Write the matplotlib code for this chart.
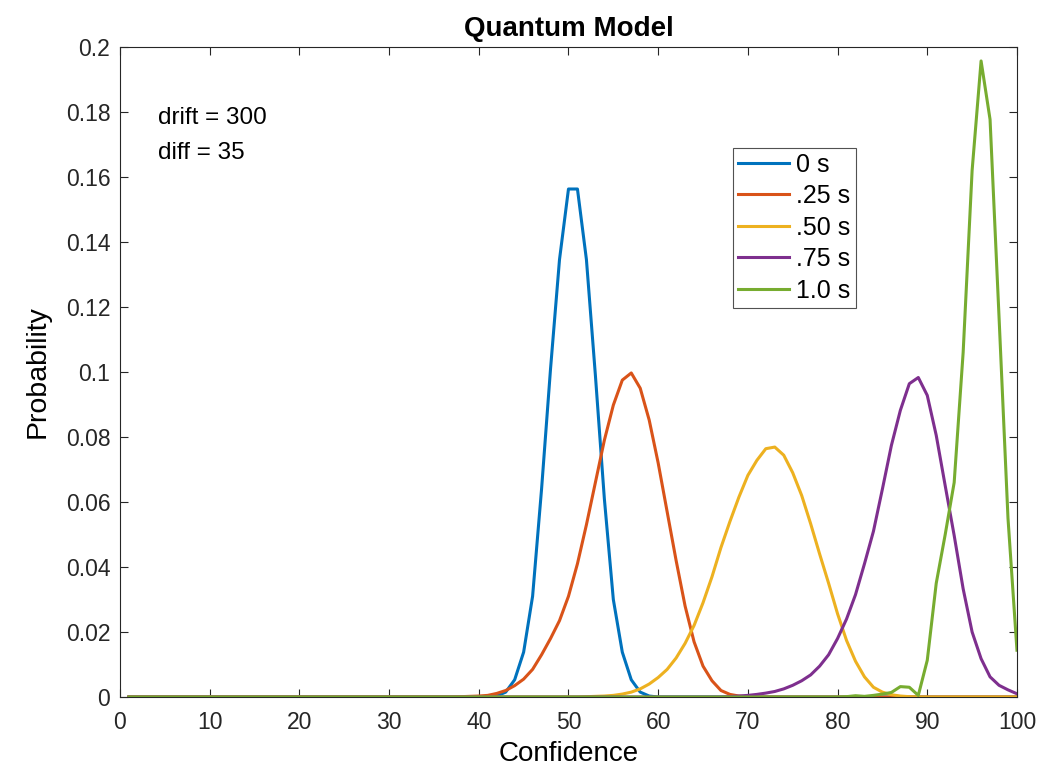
import matplotlib.pyplot as plt
import numpy as np

plt.rcParams['font.family'] = ['Liberation Sans', 'DejaVu Sans']

x = np.arange(1, 101)

# probability values (zero everywhere not listed)
blue_pts = {42: 0.0003, 43: 0.0015, 44: 0.0053, 45: 0.0138, 46: 0.031, 47: 0.064,
            48: 0.101, 49: 0.1346, 50: 0.1563, 51: 0.1563, 52: 0.1346, 53: 0.099,
            54: 0.061, 55: 0.030, 56: 0.0138, 57: 0.0053, 58: 0.0015, 59: 0.0003}
orange_pts = {38: 0.0001, 39: 0.0002, 40: 0.0003, 41: 0.0005, 42: 0.0011, 43: 0.002,
              44: 0.0035, 45: 0.0055, 46: 0.0085, 47: 0.013, 48: 0.018, 49: 0.0235,
              50: 0.031, 51: 0.041, 52: 0.053, 53: 0.066, 54: 0.079, 55: 0.0898,
              56: 0.0975, 57: 0.0997, 58: 0.095, 59: 0.0852, 60: 0.072, 61: 0.057,
              62: 0.042, 63: 0.028, 64: 0.017, 65: 0.0095, 66: 0.005, 67: 0.002,
              68: 0.0008, 69: 0.0003, 70: 0.0001}
yellow_pts = {52: 0.0001, 53: 0.0002, 54: 0.0003, 55: 0.0005, 56: 0.0009, 57: 0.0015,
              58: 0.0025, 59: 0.004, 60: 0.006, 61: 0.0085, 62: 0.012, 63: 0.0165,
              64: 0.022, 65: 0.029, 66: 0.037, 67: 0.046, 68: 0.054, 69: 0.0615,
              70: 0.0682, 71: 0.0728, 72: 0.0764, 73: 0.0769, 74: 0.0744, 75: 0.069,
              76: 0.062, 77: 0.0533, 78: 0.044, 79: 0.035, 80: 0.0256, 81: 0.0174,
              82: 0.011, 83: 0.0062, 84: 0.003, 85: 0.0015, 86: 0.0007, 87: 0.0003,
              88: 0.0001}
purple_pts = {68: 0.0001, 69: 0.0003, 70: 0.0005, 71: 0.0008, 72: 0.0012, 73: 0.0017,
              74: 0.0025, 75: 0.0036, 76: 0.005, 77: 0.0068, 78: 0.0095, 79: 0.013,
              80: 0.018, 81: 0.024, 82: 0.0315, 83: 0.041, 84: 0.051, 85: 0.064,
              86: 0.0774, 87: 0.0882, 88: 0.0964, 89: 0.0983, 90: 0.0928, 91: 0.0805,
              92: 0.065, 93: 0.0497, 94: 0.0333, 95: 0.020, 96: 0.0118, 97: 0.0062,
              98: 0.0036, 99: 0.0022, 100: 0.001}
green_pts = {81: 0.0001, 82: 0.0004, 83: 0.0002, 84: 0.0005, 85: 0.0009, 86: 0.0014,
             87: 0.0032, 88: 0.003, 89: 0.0005, 90: 0.0113, 91: 0.035, 92: 0.050,
             93: 0.066, 94: 0.106, 95: 0.162, 96: 0.1957, 97: 0.1777, 98: 0.117,
             99: 0.055, 100: 0.0144}

labels = ['0 s', '.25 s', '.50 s', '.75 s', '1.0 s']
colors = ['#0072BD', '#D95319', '#EDB120', '#7E2F8E', '#77AC30']


def to_series(pts):
    y = np.zeros(len(x))
    for k, v in pts.items():
        y[k - 1] = v
    return y


series = [to_series(p) for p in [blue_pts, orange_pts, yellow_pts, purple_pts, green_pts]]

fig = plt.figure(figsize=(10.6, 7.7), dpi=100)
ax = fig.add_axes([0.1132, 0.0948, 0.8462, 0.8442])

for y, c, lab in zip(series, colors, labels):
    ax.plot(x, y, color=c, lw=2.2, label=lab)

ax.set_xlim(0, 100)
ax.set_ylim(0, 0.2)
ax.set_xticks(np.arange(0, 101, 10))
yt = np.round(np.arange(0, 0.2001, 0.02), 2)
ax.set_yticks(yt)
ax.set_yticklabels(['{:g}'.format(v) for v in yt])
ax.tick_params(direction='in', top=True, right=True, length=6, width=0.8,
               labelsize=16.5, colors='#262626', pad=7)
ax.tick_params(axis='x', pad=10)
for s in ax.spines.values():
    s.set_color('#262626')
    s.set_linewidth(0.8)

ax.set_xlabel('Confidence', fontsize=20, labelpad=5)
ax.set_ylabel('Probability', fontsize=20.5, labelpad=11)
ax.set_title('Quantum Model', fontsize=20, fontweight='bold', pad=8)

ax.text(4.2, 0.178, 'drift = 300', fontsize=17.5, va='center', ha='left')
ax.text(4.2, 0.1675, 'diff = 35', fontsize=17.5, va='center', ha='left')

leg = ax.legend(loc='upper left', bbox_to_anchor=(0.683, 0.845), fontsize=18,
                frameon=True, fancybox=False, edgecolor='#262626',
                handlelength=2.05, handletextpad=0.3, borderpad=0.2,
                labelspacing=0.3, borderaxespad=0)
leg.get_frame().set_linewidth(0.8)

plt.savefig('out.png', dpi=100)
